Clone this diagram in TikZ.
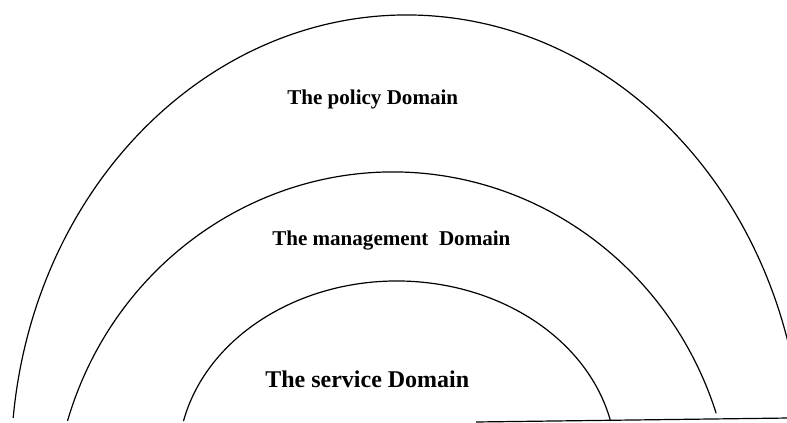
\documentclass[tikz,border=0pt]{standalone}
\usepackage{fontspec}
\setmainfont{Liberation Serif}
\usetikzlibrary{positioning}

\begin{document}
\begin{tikzpicture}[x=0.75pt, y=0.75pt,
    domainarc/.style={line width=0.9pt},
    domainlabel/.style={anchor=base west, inner sep=0pt, font=\bfseries\fontsize{15.8}{18}\selectfont}]
    \useasboundingbox (0,0) rectangle (787,423);

    % the three domains
    \coordinate (outerstart) at ({407+396*cos(174)},{-42+450*sin(174)});
    \coordinate (midstart) at ({393+340*cos(163.2)},{-99+350*sin(163.2)});
    \coordinate (innerstart) at ({397+219*cos(167.2)},{-38+180*sin(167.2)});
    \draw[domainarc] (outerstart) arc[start angle=174, end angle=6, x radius=396, y radius=450];
    \draw[domainarc] (midstart) arc[start angle=163.2, end angle=18.1, x radius=340, y radius=350];
    \draw[domainarc] (innerstart) arc[start angle=167.2, end angle=12.8, x radius=219, y radius=180];

    % base line
    \coordinate (basel) at (476,1);
    \coordinate (baser) at (790,5);
    \draw[domainarc] (basel) -- (baser);

    \node[domainlabel] (policy) at (287,318) {The policy Domain};
    \node[domainlabel] (management) at (272,177) {The management\ \ Domain};
    \node[domainlabel, font=\bfseries\fontsize{18}{21}\selectfont] (service) at (265,35) {The service Domain};
\end{tikzpicture}
\end{document}
